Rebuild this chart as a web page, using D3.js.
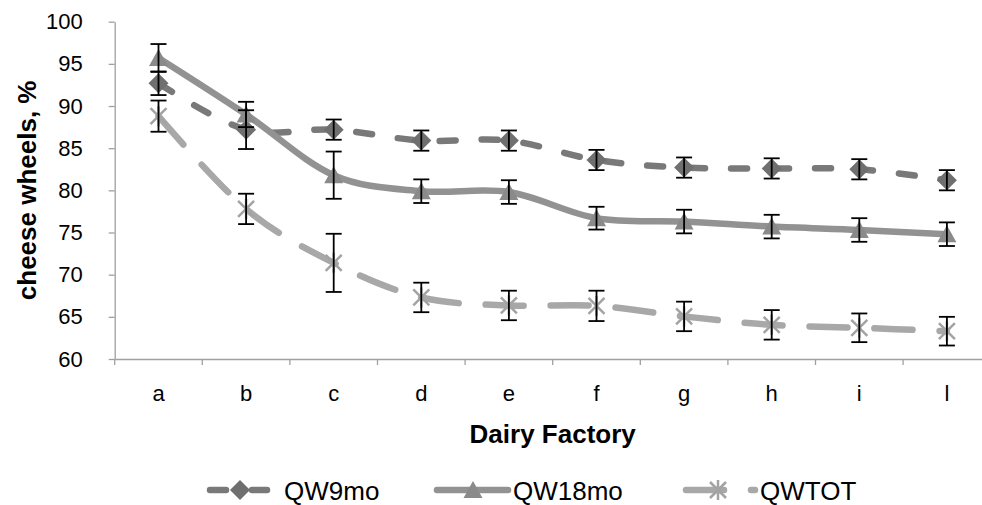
<!DOCTYPE html>
<html>
<head>
<meta charset="utf-8">
<script src="https://cdn.jsdelivr.net/npm/d3@7"></script>
<style>
  body { margin: 0; background: #fff; }
  text { font-family: "Liberation Sans", Arial, sans-serif; }
</style>
</head>
<body>
<div id="chart"></div>
<script>
// data
var factories = ["a", "b", "c", "d", "e", "f", "g", "h", "i", "l"];
var qw9mo     = [92.7, 87.2, 87.2, 85.9, 85.9, 83.6, 82.7, 82.6, 82.5, 81.2];
var qw9moErr  = [1.4, 2.3, 1.2, 1.2, 1.2, 1.2, 1.2, 1.2, 1.2, 1.2];
var qw18mo    = [95.7, 89.0, 81.8, 79.9, 79.8, 76.7, 76.3, 75.7, 75.3, 74.8];
var qw18moErr = [1.65, 1.5, 2.8, 1.4, 1.4, 1.35, 1.4, 1.4, 1.4, 1.4];
var qwtot     = [88.8, 77.8, 71.4, 67.3, 66.35, 66.3, 65.05, 64.05, 63.7, 63.3];
var qwtotErr  = [1.85, 1.8, 3.45, 1.75, 1.75, 1.8, 1.75, 1.75, 1.7, 1.7];
var yTicks = [60, 65, 70, 75, 80, 85, 90, 95, 100];

function dairy_chart(){
	var W = 982, H = 505;
	var margin = {top: 21.7, left: 114.7, bottom: 146, right: -8.7};
	var width = W - margin.left - margin.right, height = H - margin.top - margin.bottom;

	var svg = d3.select("#chart")
		.append("svg")
		.attr("width", W)
		.attr("height", H);
	var g = svg.append("g")
		.attr("transform", "translate(" + margin.left + "," + margin.top + ")");

	var axisColor = "#a0a0a0";

	// scales
	var x = d3.scaleBand()
		.domain(factories)
		.range([0, width])
		.padding(0);
	var xc = function(d) { return x(d) + x.bandwidth() / 2; };
	var y = d3.scaleLinear()
		.domain([60, 100])
		.range([height, 0]);

	// y axis
	var yAxis = g.append("g")
		.call(d3.axisLeft(y).tickValues(yTicks).tickSize(6).tickPadding(26).tickSizeOuter(0));
	yAxis.select(".domain").attr("stroke", axisColor).attr("stroke-width", 1.3);
	yAxis.selectAll(".tick line").attr("stroke", axisColor).attr("stroke-width", 1.3);
	yAxis.selectAll(".tick text")
		.attr("font-size", 22)
		.attr("fill", "#000")
		.style("font-family", "Liberation Sans, Arial, sans-serif");

	// x axis: labels in the middle of the bands, ticks on the edges
	var xAxis = g.append("g")
		.attr("transform", "translate(0," + height + ")")
		.call(d3.axisBottom(x).tickSize(0).tickPadding(26).tickSizeOuter(0));
	xAxis.select(".domain").attr("stroke", axisColor).attr("stroke-width", 1.3);
	xAxis.selectAll(".tick text")
		.attr("font-size", 22)
		.attr("fill", "#000")
		.style("font-family", "Liberation Sans, Arial, sans-serif");
	xAxis.selectAll(".edge")
		.data(factories.concat(["_end"]))
		.enter()
		.append("line")
		.attr("class", "edge")
		.attr("x1", function(d, i) { return i * x.step(); })
		.attr("x2", function(d, i) { return i * x.step(); })
		.attr("y1", 0)
		.attr("y2", 6)
		.attr("stroke", axisColor)
		.attr("stroke-width", 1.3);

	// axis titles
	svg.append("text")
		.attr("x", margin.left + (990.7 - margin.left) / 2)
		.attr("y", 443)
		.attr("text-anchor", "middle")
		.attr("font-size", 26)
		.attr("font-weight", "bold")
		.text("Dairy Factory");
	svg.append("text")
		.attr("transform", "translate(36," + (margin.top + height / 2) + ") rotate(-90)")
		.attr("text-anchor", "middle")
		.attr("font-size", 26)
		.attr("font-weight", "bold")
		.text("cheese wheels, %");

	// series
	var series = [
		{name: "QW9mo", vals: qw9mo, err: qw9moErr, line: "#797979", mark: "#6f6f6f", dash: "16,26", shape: "diamond"},
		{name: "QW18mo", vals: qw18mo, err: qw18moErr, line: "#929292", mark: "#8a8a8a", dash: null, shape: "triangle"},
		{name: "QWTOT", vals: qwtot, err: qwtotErr, line: "#a8a8a8", mark: "#a3a3a3", dash: "38,27", shape: "star"}
	];

	var line = d3.line()
		.x(function(d) { return xc(d.cat); })
		.y(function(d) { return y(d.v); })
		.curve(d3.curveCatmullRom.alpha(0));

	function pts(s) {
		return factories.map(function(c, i) { return {cat: c, v: s.vals[i], e: s.err[i]}; });
	}

	function marker(sel, shape, color) {
		if (shape === "diamond") {
			sel.append("path").attr("d", "M0,-10L10,0L0,10L-10,0Z").attr("fill", color);
		} else if (shape === "triangle") {
			sel.append("path").attr("d", "M0,-9L9.5,8L-9.5,8Z").attr("fill", color);
		} else {
			sel.append("path")
				.attr("d", "M-8,-8L8,8M-8,8L8,-8M0,-10L0,10")
				.attr("stroke", color)
				.attr("stroke-width", 2.5)
				.attr("fill", "none");
		}
	}

	// lines
	series.forEach(function(s) {
		g.append("path")
			.datum(pts(s))
			.attr("d", line)
			.attr("fill", "none")
			.attr("stroke", s.line)
			.attr("stroke-width", 6.5)
			.attr("stroke-linecap", "round")
			.attr("stroke-dasharray", s.dash);
	});

	// markers
	series.forEach(function(s) {
		g.append("g")
			.selectAll("g")
			.data(pts(s))
			.enter()
			.append("g")
			.attr("transform", function(d) { return "translate(" + xc(d.cat) + "," + y(d.v) + ")"; })
			.each(function() { marker(d3.select(this), s.shape, s.mark); });
	});

	// error bars
	series.forEach(function(s) {
		var eb = g.append("g")
			.selectAll("g")
			.data(pts(s))
			.enter()
			.append("g")
			.attr("stroke", "#000")
			.attr("stroke-width", 1.8);
		eb.append("line")
			.attr("x1", function(d) { return xc(d.cat); })
			.attr("x2", function(d) { return xc(d.cat); })
			.attr("y1", function(d) { return y(d.v + d.e); })
			.attr("y2", function(d) { return y(d.v - d.e); });
		[1, -1].forEach(function(sign) {
			eb.append("line")
				.attr("x1", function(d) { return xc(d.cat) - 8; })
				.attr("x2", function(d) { return xc(d.cat) + 8; })
				.attr("y1", function(d) { return y(d.v + sign * d.e); })
				.attr("y2", function(d) { return y(d.v + sign * d.e); });
		});
	});

	// legend
	var legendY = 490;
	var legendItems = [
		{x0: 210, x1: 267, mx: 240, tx: 284},
		{x0: 437, x1: 508, mx: 473, tx: 513},
		{x0: 686, x1: 755, mx: 718, tx: 760}
	];
	var legend = svg.append("g").attr("class", "legend");
	series.forEach(function(s, i) {
		var li = legendItems[i];
		legend.append("line")
			.attr("x1", li.x0).attr("x2", li.x1)
			.attr("y1", legendY).attr("y2", legendY)
			.attr("stroke", s.line)
			.attr("stroke-width", 6.5)
			.attr("stroke-linecap", "round")
			.attr("stroke-dasharray", s.dash);
		var m = legend.append("g").attr("transform", "translate(" + li.mx + "," + legendY + ")");
		marker(m, s.shape, s.mark);
		legend.append("text")
			.attr("x", li.tx)
			.attr("y", legendY + 10)
			.attr("font-size", 26)
			.text(s.name);
	});
}

dairy_chart();
</script>
</body>
</html>
